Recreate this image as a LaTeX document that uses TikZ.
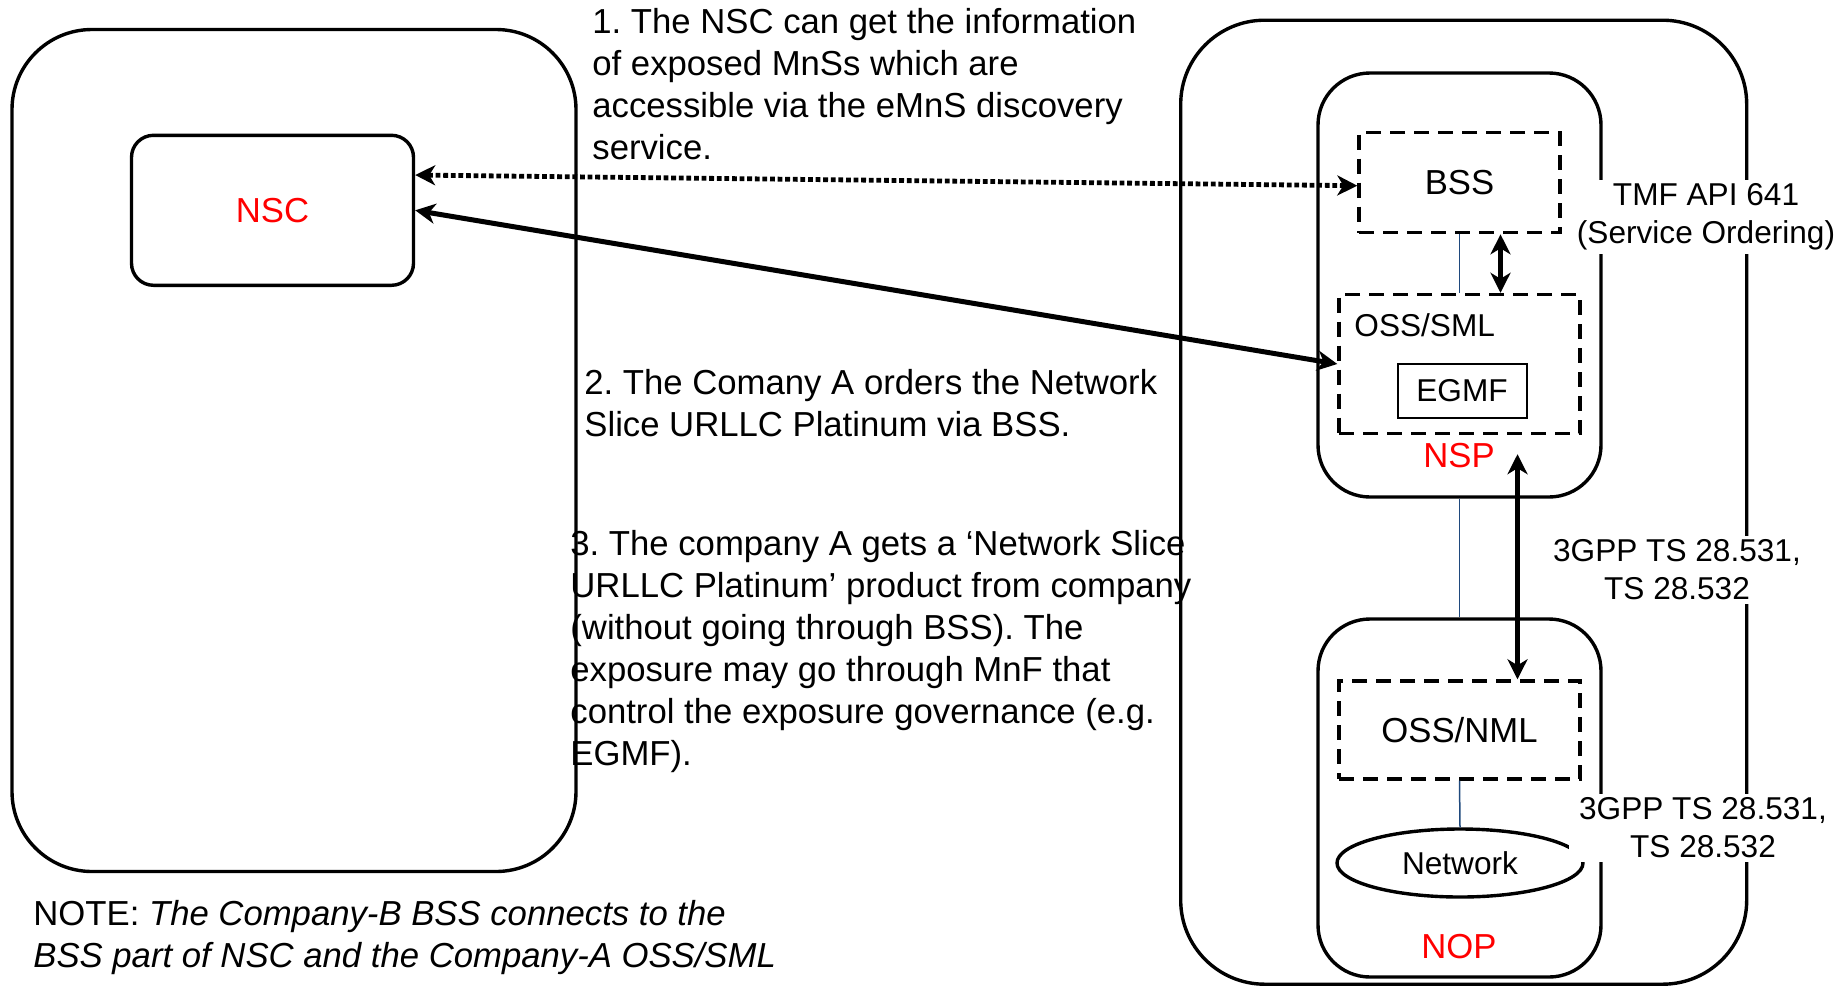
\documentclass[tikz,border=0pt]{standalone}
\usepackage{fontspec}
\setmainfont{Liberation Sans}
\usetikzlibrary{arrows.meta,calc,shapes.geometric}
\frenchspacing
\def\bigfs{\fontsize{17.35}{21}\selectfont}
\def\smallfs{\fontsize{15.8}{19}\selectfont}
\definecolor{linkblue}{RGB}{31,73,125}
\tikzset{
  box/.style={draw, line width=1.7pt, rounded corners=#1, inner sep=0pt, font=\bigfs},
  box/.default=11pt,
  dashbox/.style={draw, line width=1.7pt, dash pattern=on 7.5pt off 4.5pt, inner sep=0pt, font=\bigfs},
  txt/.style={anchor=base west, align=left, inner sep=0pt, font=\bigfs},
  redlbl/.style={text=red, font=\bigfs, inner sep=0pt},
  tag/.style={fill=white, align=center, font=\smallfs, inner xsep=5pt, inner ysep=2pt},
  twoway/.style={line width=2.5pt, {Stealth[length=10pt,width=10pt,inset=3pt]}-{Stealth[length=10pt,width=10pt,inset=3pt]}},
  dotway/.style={twoway, line width=2.4pt, dash pattern=on 2.4pt off 1.4pt},
  blueline/.style={draw=linkblue, line width=0.75pt}
}

\begin{document}
\begin{tikzpicture}[x=0.5pt, y=-0.5pt]
		%%%%% START %%%%%
		\useasboundingbox (0,0) rectangle (1842,986);
		
		% base of the last line of each text
		\node[txt] (step3) at (570,765) {3. The company A gets a ‘Network Slice\\URLLC Platinum’ product from company\\(without going through BSS). The\\exposure may go through MnF that\\control the exposure governance (e.g.\\EGMF).};
		
		\node[box=40pt, minimum width=282pt, minimum height=421pt] (compA) at (294,450.5) {};
		\node[box, minimum width=141pt, minimum height=75pt, text=red] (nsc) at (272.5,210.3) {NSC};
		
		\node[box=42pt, minimum width=283pt, minimum height=482pt] (compB) at (1463.7,502.2) {};
		\node[box=26pt, minimum width=141.5pt, minimum height=212pt] (nsp) at (1459.5,285) {};
		\node[box=26pt, minimum width=141.5pt, minimum height=179pt] (nop) at (1459.5,798) {};
		
		\node[dashbox, minimum width=100.5pt, minimum height=50pt] (bss) at (1459.5,182.6) {BSS};
		\node[dashbox, minimum width=120.5pt, minimum height=69.5pt] (osssml) at (1459.5,364) {};
		\node[anchor=west, inner sep=0pt, font=\smallfs] (osssmllbl) at (1354,325) {OSS/SML};
		\node[draw, line width=1pt, minimum width=64.5pt, minimum height=27pt, inner sep=0pt, font=\smallfs] (egmf) at (1462,391) {EGMF};
		\node[redlbl] (nsplbl) at (1459,456) {NSP};
		
		\node[dashbox, minimum width=120.5pt, minimum height=49pt] (ossnml) at (1459.5,730) {OSS/NML};
		\node[draw, ellipse, line width=1.7pt, minimum width=123pt, minimum height=34pt, inner sep=0pt, font=\smallfs] (network) at (1460,863) {Network};
		\node[redlbl] (noplbl) at (1459,947) {NOP};
		
		\draw[blueline] (bss.south) -- (osssml.north);
		\draw[blueline] (nsp.south) -- (nop.north);
		\draw[blueline] (ossnml.south) -- (network.north);
		
		\node[txt] (step1) at (592,159) {1. The NSC can get the information\\of exposed MnSs which are\\accessible via the eMnS discovery\\service.};
		\node[txt] (step2) at (584,436) {2. The Comany A orders the Network\\Slice URLLC Platinum via BSS.};
		\node[txt] (note) at (33,967) {NOTE: \textit{The Company-B BSS connects to the}\\\textit{BSS part of NSC and the Company-A OSS/SML}};
		
		\draw[dotway] ($(nsc.north east)!0.27!(nsc.south east)$) -- ($(bss.north west)!0.53!(bss.south west)$);
		\draw[twoway] (nsc.east) -- (osssml.west);
		\draw[twoway] ($(bss.south)+(41,0)$) -- ($(osssml.north)+(41,0)$);
		\coordinate (nspin) at ($(osssml.south)+(58,19)$);
		\draw[twoway] (nspin) -- (nspin |- ossnml.north);
		
		\node[tag] (tmf) at (1706,217) {TMF API 641\\(Service Ordering)};
		\node[tag] (gppa) at (1677,570) {3GPP TS 28.531,\\TS 28.532};
		\node[tag] (gppb) at (1703,828) {3GPP TS 28.531,\\TS 28.532};
		
		%%%%% END %%%%%
\end{tikzpicture}
\end{document}
